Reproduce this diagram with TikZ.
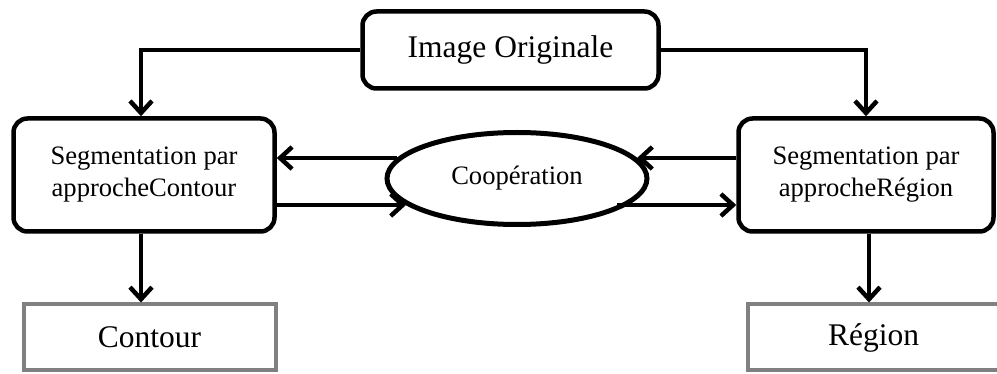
\documentclass[tikz,border=0pt]{standalone}
\usepackage{fontspec}
\setmainfont{Liberation Serif}
\usetikzlibrary{arrows.meta,shapes.geometric,calc}
\begin{document}
\begin{tikzpicture}[x=1pt,y=-1pt,
  big/.style={font=\fontsize{31.5}{36}\selectfont},
  small/.style={font=\fontsize{26.6}{32}\selectfont},
  rbox/.style={draw=black,line width=4.5pt,rounded corners=14pt,align=center,inner sep=0pt},
  gbox/.style={draw=black!50,line width=4pt,inner sep=0pt,big},
  arr/.style={line width=4.5pt,-{Straight Barb[length=12pt,width=22pt]}}
]
\useasboundingbox (0,0) rectangle (997,374);
\node[rbox,big,minimum width=296pt,minimum height=77pt] (io) at (510.5,50) {Image Originale};
\node[rbox,small,minimum width=261pt,minimum height=113pt] (sc) at (144,175) {Segmentation par\\approcheContour};
\node[rbox,small,minimum width=255pt,minimum height=113pt] (sr) at (866,175) {Segmentation par\\approcheRégion};
\node[draw=black,line width=5pt,ellipse,minimum width=260pt,minimum height=92pt,inner sep=0pt,small] (ell) at (517,178.5) {\raisebox{5pt}{Coopération}};
\node[gbox,minimum width=252pt,minimum height=66pt] (ct) at (149.5,337.5) {Contour};
\node[gbox,minimum width=252pt,minimum height=66pt] (rg) at (873.5,337.5) {Région};
\coordinate (eUL) at ($(ell.center)+(-120,-20.5)$);
\coordinate (eLL) at ($(ell.center)+(-111,26.5)$);
\coordinate (eUR) at ($(ell.center)+(120,-20.5)$);
\coordinate (eLR) at ($(ell.center)+(100,26.5)$);
\draw[arr] (io.west) -| ([xshift=-3pt]sc.north);
\draw[arr] (io.east) -| (sr.north);
\draw[arr] ([xshift=-3pt]sc.south) -- ([xshift=-3pt]sc.south |- ct.north);
\draw[arr] ([xshift=3pt]sr.south) -- ([xshift=3pt]sr.south |- rg.north);
\draw[arr] (eUL) -- (eUL -| sc.east);
\draw[arr] (sc.east |- eLL) -- (eLL);
\draw[arr] (sr.west |- eUR) -- (eUR);
\draw[arr] (eLR) -- (eLR -| sr.west);
\end{tikzpicture}
\end{document}
